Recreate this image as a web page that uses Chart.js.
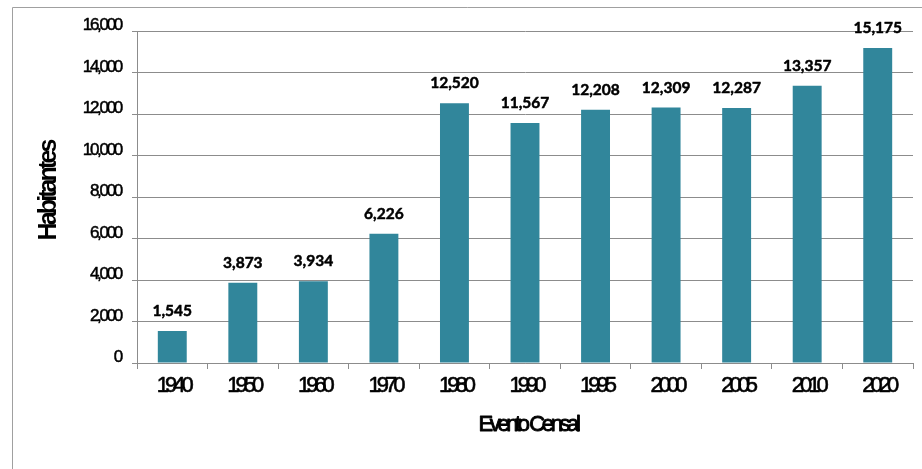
<!DOCTYPE html>
<html>
<head>
<meta charset="utf-8">
<script src="https://cdn.jsdelivr.net/npm/chart.js@4.4.1/dist/chart.umd.min.js"></script>
<style>
  html, body { margin: 0; padding: 0; background: #fff; }
  #wrap { position: relative; width: 922px; height: 469px; }
</style>
</head>
<body>
<div id="wrap"><canvas id="censoChart" width="922" height="469"></canvas></div>
<script>
// datos del gráfico
const categorias = ['1940', '1950', '1960', '1970', '1980', '1990', '1995', '2000', '2005', '2010', '2020'];
const habitantes = [1545, 3873, 3934, 6226, 12520, 11567, 12208, 12309, 12287, 13357, 15175];
const yTicks = [0, 2000, 4000, 6000, 8000, 10000, 12000, 14000, 16000];
const tituloX = 'Evento Censal';
const tituloY = 'Habitantes';

const colorBarra = 'rgb(49, 134, 155)';
const colorGrid = '#8c8c8c';

function fmt(n) {
    return n.toLocaleString('en-US');
}

// texto con un trazo fino para que se vea más oscuro, como en el original
function textoGrueso(ctx, txt, x, y, grosor) {
    ctx.fillText(txt, x, y);
    ctx.lineWidth = grosor;
    ctx.strokeText(txt, x, y);
}

// dibuja marco, etiquetas de ejes, títulos y valores sobre las barras
const textosPlugin = {
    id: 'textos',
    beforeDraw(chart) {
        const ctx = chart.ctx;
        ctx.save();
        ctx.strokeStyle = '#a0a0a0';
        ctx.lineWidth = 1;
        ctx.beginPath();
        ctx.moveTo(12.5, 480);
        ctx.lineTo(12.5, 7.5);
        ctx.lineTo(940, 7.5);
        ctx.stroke();
        ctx.restore();
    },
    afterDraw(chart) {
        const ctx = chart.ctx;
        const x = chart.scales.x;
        const y = chart.scales.y;
        ctx.save();
        ctx.fillStyle = '#000';
        ctx.strokeStyle = '#000';
        ctx.lineJoin = 'round';

        // etiquetas eje Y
        ctx.font = '17px "Liberation Sans", Arial, sans-serif';
        ctx.letterSpacing = '-2.3px';
        ctx.textAlign = 'right';
        ctx.textBaseline = 'alphabetic';
        yTicks.forEach(v => {
            textoGrueso(ctx, fmt(v), 121, y.getPixelForValue(v) - 1, 0.5);
        });

        // etiquetas eje X
        ctx.font = '22px "Liberation Sans", Arial, sans-serif';
        ctx.letterSpacing = '-4px';
        ctx.textAlign = 'center';
        categorias.forEach((c, i) => {
            textoGrueso(ctx, c, x.getPixelForValue(i) + 1, 392, 0.6);
        });

        // título eje X
        ctx.letterSpacing = '-3.4px';
        textoGrueso(ctx, tituloX, (chart.chartArea.left + chart.chartArea.right) / 2 + 3, 431, 0.9);

        // título eje Y
        ctx.save();
        ctx.translate(56, 191);
        ctx.rotate(-Math.PI / 2);
        ctx.font = 'bold 25px "Liberation Sans", Arial, sans-serif';
        ctx.letterSpacing = '-2.9px';
        ctx.textAlign = 'center';
        ctx.fillText(tituloY, 0, 0);
        ctx.restore();

        // valores sobre barras
        ctx.letterSpacing = '0px';
        ctx.font = 'bold 15.5px Lato, "Open Sans", sans-serif';
        ctx.textAlign = 'center';
        const meta = chart.getDatasetMeta(0);
        meta.data.forEach((bar, i) => {
            textoGrueso(ctx, fmt(habitantes[i]), bar.x, bar.y - 15, 0.5);
        });
        ctx.restore();
    }
};

document.addEventListener('DOMContentLoaded', function() {
    const ctx = document.getElementById('censoChart').getContext('2d');
    new Chart(ctx, {
        type: 'bar',
        data: {
            labels: categorias,
            datasets: [{
                label: tituloY,
                data: habitantes,
                backgroundColor: colorBarra,
                borderWidth: 0,
                categoryPercentage: 1,
                barPercentage: 0.41
            }]
        },
        options: {
            responsive: false,
            animation: false,
            layout: { padding: { top: 31, right: 9, left: 0, bottom: 0 } },
            plugins: {
                legend: { display: false },
                tooltip: { enabled: false }
            },
            scales: {
                x: {
                    grid: {
                        offset: true,
                        drawOnChartArea: false,
                        drawTicks: true,
                        tickLength: 6,
                        color: colorGrid
                    },
                    border: { display: true, color: colorGrid },
                    ticks: { display: false },
                    afterFit(scale) { scale.height = 106; }
                },
                y: {
                    min: 0,
                    max: 16000,
                    ticks: { display: false, stepSize: 2000 },
                    grid: {
                        drawTicks: true,
                        tickLength: 5,
                        color: colorGrid
                    },
                    border: { display: true, color: colorGrid },
                    afterFit(scale) { scale.width = 137; }
                }
            }
        },
        plugins: [textosPlugin]
    });
});
</script>
</body>
</html>
